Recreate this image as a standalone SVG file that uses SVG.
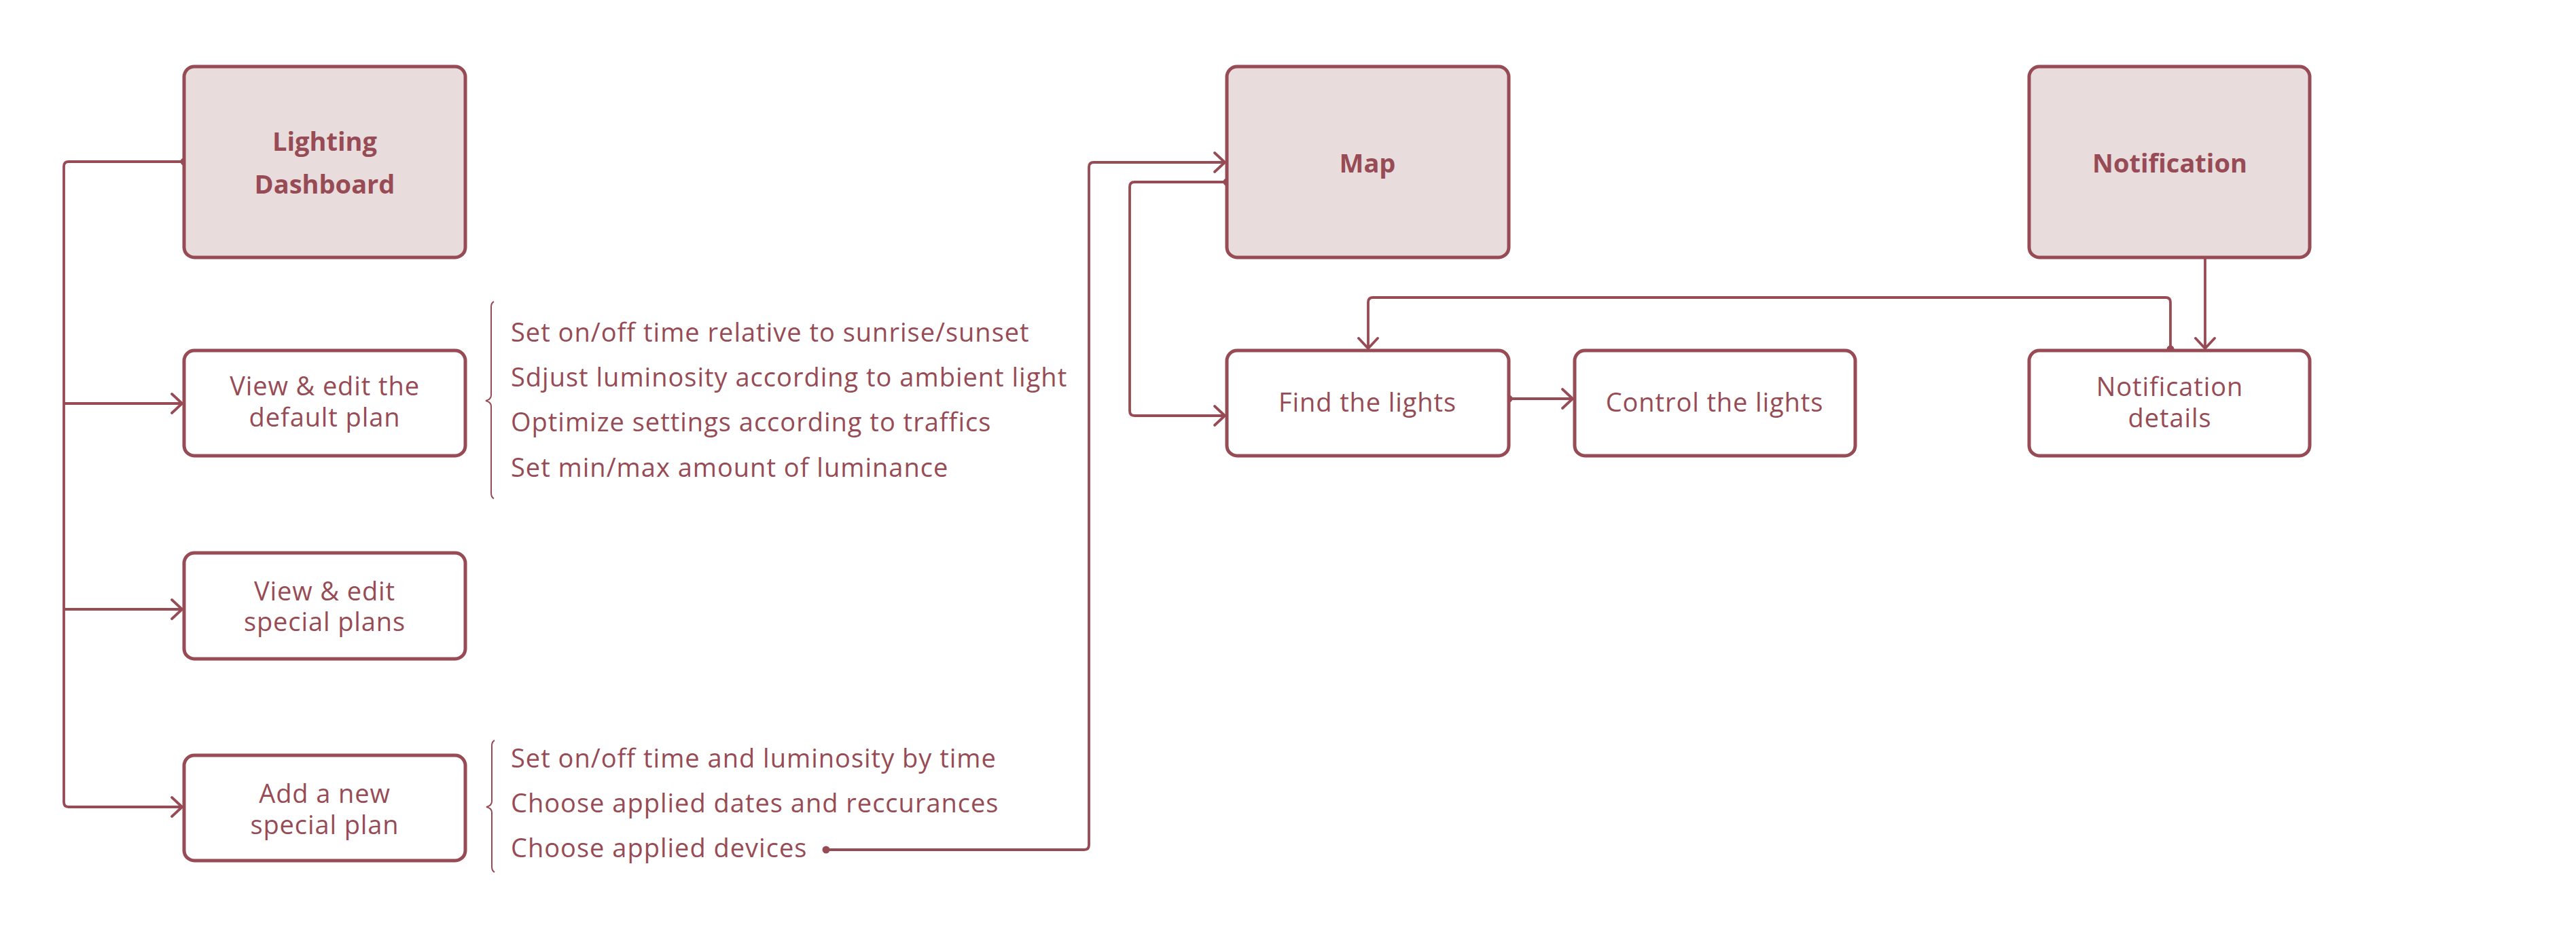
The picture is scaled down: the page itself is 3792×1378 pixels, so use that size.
<svg xmlns="http://www.w3.org/2000/svg" width="3792" height="1378" viewBox="0 0 3792 1378">
<defs>
<style>
.box{fill:#ffffff;stroke:#974B55;stroke-width:5}
.main{fill:#E9DCDD;stroke:#974B55;stroke-width:5}
.t{font-family:"Open Sans","Liberation Sans",sans-serif;font-size:38px;letter-spacing:0.9px;fill:#974B55;text-anchor:middle}
.b{font-weight:bold;letter-spacing:0px}
.l{font-family:"Open Sans","Liberation Sans",sans-serif;font-size:38px;letter-spacing:1px;fill:#974B55}
.c{fill:none;stroke:#974B55;stroke-width:3.8}
.br{fill:none;stroke:#974B55;stroke-width:2}
.dot{fill:#974B55}
</style>
<marker id="arr" markerUnits="userSpaceOnUse" viewBox="-20 -20 24 40" refX="0" refY="0" markerWidth="24" markerHeight="40" orient="auto">
<path d="M-15,-14 L0,0 L-15,14" fill="none" stroke="#974B55" stroke-width="3.8" stroke-linecap="round" stroke-linejoin="round"/>
</marker>
</defs>
<rect width="3792" height="1378" fill="#ffffff"/>
<g id="connectors">
<path class="c" d="M271,238 H101 Q94,238 94,245 V1181 Q94,1188 101,1188 H268" marker-end="url(#arr)"/>
<path class="c" d="M94,594 H268" marker-end="url(#arr)"/>
<path class="c" d="M94,897 H268" marker-end="url(#arr)"/>
<circle class="dot" cx="271" cy="238" r="5.5"/>
<path class="c" d="M1216,1251 H1596 Q1603,1251 1603,1244 V246 Q1603,239 1610,239 H1803" marker-end="url(#arr)"/>
<circle class="dot" cx="1216" cy="1251" r="5.5"/>
<path class="c" d="M1806,268 H1670 Q1663,268 1663,275 V605 Q1663,612 1670,612 H1803" marker-end="url(#arr)"/>
<circle class="dot" cx="1806" cy="268" r="5.5"/>
<path class="c" d="M2221,587 H2315" marker-end="url(#arr)"/>
<circle class="dot" cx="2221" cy="587" r="5.5"/>
<path class="c" d="M3195,516 V445 Q3195,438 3188,438 H2021 Q2014,438 2014,445 V513" marker-end="url(#arr)"/>
<circle class="dot" cx="3195" cy="514" r="5.5"/>
<path class="c" d="M3246,379 V513" marker-end="url(#arr)"/>
<path class="br" d="M727,444 Q723,446 723,452 V582 Q723,588 715,590 Q723,592 723,598 V726 Q723,732 727,734"/>
<path class="br" d="M728,1090 Q724,1092 724,1098 V1180 Q724,1186 716,1188 Q724,1190 724,1196 V1276 Q724,1282 728,1284"/>
</g>
<g id="lighting-dashboard">
<rect class="main" x="271" y="98" width="414" height="281" rx="15"/>
<text class="t b" x="478" y="222">Lighting</text>
<text class="t b" x="478" y="285">Dashboard</text>
</g>
<g id="default-plan">
<rect class="box" x="271" y="516" width="414" height="155" rx="15"/>
<text class="t" x="478" y="582">View &amp; edit the</text>
<text class="t" x="478" y="628">default plan</text>
</g>
<g id="default-plan-options">
<text class="l" x="752" y="503">Set on/off time relative to sunrise/sunset</text>
<text class="l" x="752" y="569">Sdjust luminosity according to ambient light</text>
<text class="l" x="752" y="635">Optimize settings according to traffics</text>
<text class="l" x="752" y="702">Set min/max amount of luminance</text>
</g>
<g id="special-plans">
<rect class="box" x="271" y="814" width="414" height="156" rx="15"/>
<text class="t" x="478" y="884">View &amp; edit</text>
<text class="t" x="478" y="929">special plans</text>
</g>
<g id="new-special-plan">
<rect class="box" x="271" y="1112" width="414" height="155" rx="15"/>
<text class="t" x="478" y="1182">Add a new</text>
<text class="t" x="478" y="1228">special plan</text>
</g>
<g id="new-special-plan-options">
<text class="l" x="752" y="1130">Set on/off time and luminosity by time</text>
<text class="l" x="752" y="1196">Choose applied dates and reccurances</text>
<text class="l" x="752" y="1262">Choose applied devices</text>
</g>
<g id="map">
<rect class="main" x="1806" y="98" width="415" height="281" rx="15"/>
<text class="t b" x="2013" y="254">Map</text>
</g>
<g id="find-lights">
<rect class="box" x="1806" y="516" width="415" height="155" rx="15"/>
<text class="t" x="2013" y="606">Find the lights</text>
</g>
<g id="control-lights">
<rect class="box" x="2318" y="516" width="413" height="155" rx="15"/>
<text class="t" x="2524" y="606">Control the lights</text>
</g>
<g id="notification">
<rect class="main" x="2987" y="98" width="413" height="281" rx="15"/>
<text class="t b" x="3194" y="254">Notification</text>
</g>
<g id="notification-details">
<rect class="box" x="2987" y="516" width="413" height="155" rx="15"/>
<text class="t" x="3194" y="583">Notification</text>
<text class="t" x="3194" y="629">details</text>
</g>
</svg>
